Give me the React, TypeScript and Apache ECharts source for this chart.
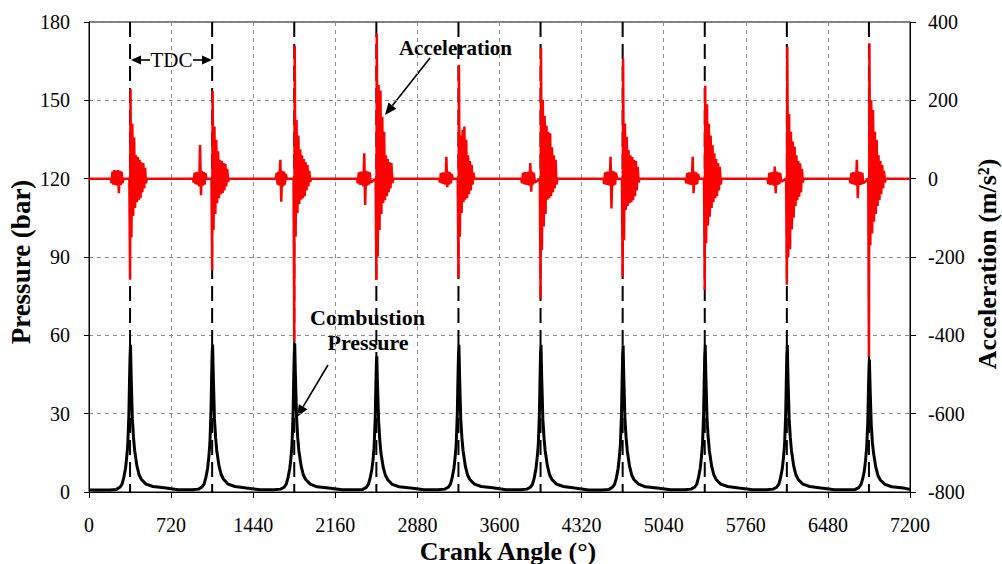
import React, { useEffect, useRef } from "react";
import * as echarts from "echarts";

// ---- data ----
const tdcAngles = [360, 1080, 1800, 2520, 3240, 3960, 4680, 5400, 6120, 6840];

// crank-angle offsets (deg, relative to each TDC) at which pressure was read
const pressureOffsets = [-300, -180, -120, -90, -70, -55, -40, -30, -20, -10, -5, 0, 4, 10, 20, 30, 40, 60, 80, 100, 140, 200, 300];
const pressureC1 = [0.8, 0.8, 1.0, 1.8, 3.0, 5.5, 9, 13, 18, 30, 42, 52, 56.4, 44, 28, 21, 16, 10, 6.5, 4.8, 3.0, 2.1, 1.6];
const pressureC2 = [0.9, 0.9, 1.1, 1.9, 3.1, 5.6, 9, 13, 18.5, 31, 43, 53, 56.5, 45, 28, 21, 16, 10, 6.6, 4.9, 3.0, 2.1, 1.5];
const pressureC3 = [0.9, 0.9, 1.1, 1.8, 3.0, 5.4, 8.8, 12.5, 18, 30, 43, 53, 57, 45, 29, 21, 16, 10, 6.5, 4.8, 3.0, 2.0, 1.5];
const pressureC4 = [0.9, 0.9, 1.0, 1.7, 2.9, 5.2, 8.5, 12, 17, 28, 39, 49, 52, 41, 27, 20, 15, 9.5, 6.3, 4.7, 2.9, 2.0, 1.5];
const pressureC5 = [0.9, 0.9, 1.1, 1.8, 3.0, 5.5, 9, 13, 18, 30, 42, 52, 56.4, 44, 28, 21, 16, 10, 6.5, 4.8, 3.0, 2.1, 1.6];
const pressureC6 = [0.9, 0.9, 1.1, 1.8, 3.0, 5.5, 9, 13, 18, 30, 42, 53, 56.4, 44, 28, 21, 16, 10, 6.5, 4.8, 3.0, 2.1, 1.5];
const pressureC7 = [0.8, 0.8, 1.0, 1.8, 3.0, 5.4, 8.9, 13, 18, 30, 42, 52, 56.2, 44, 28, 21, 16, 10, 6.4, 4.7, 3.0, 2.0, 1.5];
const pressureC8 = [0.9, 0.9, 1.1, 1.8, 3.0, 5.5, 9, 13, 18, 30, 42, 52, 56.4, 44, 28, 21, 16, 10, 6.5, 4.8, 3.0, 2.1, 1.5];
const pressureC9 = [0.9, 0.9, 1.1, 1.8, 3.0, 5.5, 9, 13, 18, 30, 42, 52, 56.3, 44, 28, 21, 16, 10, 6.5, 4.8, 3.0, 2.1, 1.5];
const pressureC10 = [0.9, 0.9, 1.0, 1.7, 2.8, 5.0, 8.2, 12, 17, 27, 38, 47, 50.7, 40, 26, 19, 15, 9.5, 6.2, 4.6, 2.9, 2.0, 1.5];
const pressureCycles = [pressureC1, pressureC2, pressureC3, pressureC4, pressureC5, pressureC6, pressureC7, pressureC8, pressureC9, pressureC10];
const pressureStart = [0, 0.8];
const pressureEnd = [7200, 1.0];

// crank-angle offsets (deg, relative to each TDC) at which acceleration was read
const accelOffsets = [-170, -162, -154, -146, -138, -130, -122, -114, -106, -98, -90, -82, -74, -66, -58, -50,
  -6, 0, 4, 12, 20, 28, 36, 44, 52, 60, 68, 76, 84, 92, 100, 108, 116, 124, 132, 140, 148];
const accelB1 = [0, -12, 18, -15, 22, -16, 20, -18, 22, -37, 20, -16, 18, -12, 0, 0,
  0, -258, 229, -150, 140, -95, 105, -75, 60, -60, 55, -55, 48, -50, 42, -35, 40, -25, 28, -12, 0];
const accelB2 = [0, -10, 15, -14, 17, -15, 16, -20, 86, -42, 20, -18, 17, -15, 14, 0,
  0, -233, 224, -131, 133, -90, 99, -63, 70, -50, 48, -40, 45, -37, 40, -30, 38, -20, 25, -8, 0];
const accelB3 = [0, 0, 15, -15, 18, -18, 48, -59, 20, -20, 18, -15, 12, 0, 0, 0,
  0, -417, 339, -148, 150, -88, 110, -65, 75, -54, 60, -50, 50, -45, 42, -30, 35, -20, 20, -8, 0];
const accelB4 = [0, -12, 16, -15, 18, -16, 18, -20, 65, -67, 20, -18, 18, -15, 16, -10,
  0, -259, 370, -199, 239, -131, 225, -90, 158, -63, 120, -55, 60, -45, 50, -35, 42, -25, 40, -12, 0];
const accelB5 = [0, -10, 14, -12, 16, -14, 15, -15, 56, -22, 18, -15, 16, -12, 12, 0,
  0, -254, 290, -148, 110, -88, 125, -60, 133, -54, 99, -50, 60, -40, 45, -30, 35, -15, 15, 0, 0];
const accelB6 = [0, -12, 15, -14, 17, -15, 16, -16, 18, -18, 40, -33, 18, -15, 15, -10,
  0, -306, 334, -182, 201, -122, 160, -90, 135, -54, 120, -50, 116, -45, 80, -35, 60, -25, 48, -15, 0];
const accelB7 = [0, -14, 16, -15, 18, -16, 18, -18, 56, -76, 20, -18, 18, -15, 15, 0,
  0, -250, 307, -157, 141, -80, 107, -70, 73, -63, 60, -60, 55, -55, 48, -45, 45, -30, 30, -10, 0];
const accelB8 = [0, -12, 14, -14, 16, -15, 16, -16, 56, -37, 18, -16, 16, -14, 12, 0,
  0, -284, 237, -165, 190, -120, 140, -97, 110, -75, 85, -60, 65, -50, 50, -45, 40, -30, 30, -15, 0];
const accelB9 = [0, -14, 15, -16, 16, -15, 17, -18, 31, -37, 18, -16, 16, -14, 14, -8,
  0, -271, 336, -200, 165, -180, 120, -130, 95, -100, 82, -70, 60, -55, 45, -46, 39, -35, 25, -10, 0];
const accelB10 = [0, -12, 15, -14, 17, -15, 16, -17, 48, -50, 18, -16, 17, -15, 15, -12,
  0, -454, 346, -170, 200, -140, 175, -110, 120, -90, 99, -70, 60, -55, 45, -40, 35, -25, 20, -10, 0];
const accelBursts = [accelB1, accelB2, accelB3, accelB4, accelB5, accelB6, accelB7, accelB8, accelB9, accelB10];
const accelStart = [0, 0];
const accelEnd = [7200, 0];

const FONT = "Liberation Serif";

function buildPressure() {
  const out: number[][] = [pressureStart];
  tdcAngles.forEach((tdc, c) => {
    pressureOffsets.forEach((o, i) => out.push([tdc + o, pressureCycles[c][i]]));
  });
  out.push(pressureEnd);
  return out;
}

function buildAccel() {
  const out: number[][] = [accelStart];
  tdcAngles.forEach((tdc, b) => {
    accelOffsets.forEach((o, i) => out.push([tdc + o, accelBursts[b][i]]));
  });
  out.push(accelEnd);
  return out;
}

function arrow(x1: number, y1: number, x2: number, y2: number, head = 12, half = 5) {
  const dx = x2 - x1, dy = y2 - y1;
  const len = Math.sqrt(dx * dx + dy * dy);
  const ux = dx / len, uy = dy / len;
  const bx = x2 - ux * head, by = y2 - uy * head;
  const px = -uy * half, py = ux * half;
  return [
    { type: "line", shape: { x1, y1, x2: bx, y2: by }, style: { stroke: "#000", lineWidth: 1.6 }, silent: true },
    { type: "polygon", shape: { points: [[x2, y2], [bx + px, by + py], [bx - px, by - py]] }, style: { fill: "#000" }, silent: true },
  ];
}

export default function App() {
  const ref = useRef<HTMLDivElement>(null);
  useEffect(() => {
    if (!ref.current) return;
    const chart = echarts.init(ref.current, undefined, { renderer: "svg" });
    const labelStyle = { fontFamily: FONT, fontSize: 20, color: "#000", formatter: (v: number) => String(v) };
    const splitLine = { show: true, lineStyle: { color: "#8c8c8c", type: [4, 4] as any, width: 1 } };
    chart.setOption({
      animation: false,
      backgroundColor: "#fff",
      grid: { left: 89, right: 92, top: 22, bottom: 72, show: true, borderColor: "#000", borderWidth: 1, backgroundColor: "transparent" },
      xAxis: {
        type: "value", min: 0, max: 7200, interval: 720,
        axisLine: { show: true, lineStyle: { color: "#000", width: 1 } },
        axisTick: { show: true, inside: false, length: 6, lineStyle: { color: "#000" } },
        axisLabel: { ...labelStyle, margin: 23 },
        splitLine,
      },
      yAxis: [
        {
          type: "value", min: 0, max: 180, interval: 30, position: "left",
          axisLine: { show: true, lineStyle: { color: "#000", width: 1 } },
          axisTick: { show: true, inside: false, length: 5, lineStyle: { color: "#000" } },
          axisLabel: { ...labelStyle, margin: 19 },
          splitLine,
        },
        {
          type: "value", min: -800, max: 400, interval: 200, position: "right",
          axisLine: { show: true, lineStyle: { color: "#000", width: 1 } },
          axisTick: { show: true, inside: false, length: 6, lineStyle: { color: "#000" } },
          axisLabel: { ...labelStyle, margin: 18 },
          splitLine: { show: false },
        },
      ],
      series: [
        {
          type: "custom", name: "TDC", xAxisIndex: 0, yAxisIndex: 0, z: 1, silent: true,
          data: tdcAngles.map((a) => [a, 0]),
          encode: { x: 0, y: 1 },
          renderItem: (params: any, api: any) => {
            const top = api.coord([api.value(0), 180]);
            const bot = api.coord([api.value(0), 0]);
            return {
              type: "line",
              shape: { x1: top[0], y1: top[1], x2: bot[0], y2: bot[1] },
              style: { stroke: "#000", lineWidth: 2, lineDash: [15, 7] },
            };
          },
        },
        {
          type: "line", name: "Combustion Pressure", yAxisIndex: 0, z: 2,
          data: buildPressure(), showSymbol: false, symbol: "none",
          lineStyle: { color: "#000", width: 3 },
        },
        {
          type: "line", name: "Acceleration", yAxisIndex: 1, z: 3,
          data: buildAccel(), showSymbol: false, symbol: "none",
          lineStyle: { color: "#ff0000", width: 2.5 },
        },
      ],
      graphic: [
        { type: "text", x: 21, y: 262, rotation: Math.PI / 2, silent: true,
          style: { text: "Pressure (bar)", fontFamily: FONT, fontSize: 27, fontWeight: "bold", fill: "#000", align: "center", verticalAlign: "middle" } },
        { type: "text", x: 987, y: 264, rotation: Math.PI / 2, silent: true,
          style: { text: "Acceleration (m/s²)", fontFamily: FONT, fontSize: 26, fontWeight: "bold", fill: "#000", align: "center", verticalAlign: "middle" } },
        { type: "text", x: 508, y: 551, silent: true,
          style: { text: "Crank Angle (°)", fontFamily: FONT, fontSize: 26, fontWeight: "bold", fill: "#000", align: "center", verticalAlign: "middle" } },
        { type: "text", x: 171.5, y: 60, silent: true,
          style: { text: "TDC", fontFamily: FONT, fontSize: 21, fill: "#000", align: "center", verticalAlign: "middle" } },
        ...arrow(150, 60, 131, 60, 10, 4.5),
        ...arrow(193, 60, 212, 60, 10, 4.5),
        { type: "text", x: 455.5, y: 48, silent: true,
          style: { text: "Acceleration", fontFamily: FONT, fontSize: 21, fontWeight: "bold", fill: "#000", align: "center", verticalAlign: "middle" } },
        ...arrow(430, 58, 385, 115),
        { type: "text", x: 367.5, y: 317, silent: true,
          style: { text: "Combustion", fontFamily: FONT, fontSize: 22, fontWeight: "bold", fill: "#000", align: "center", verticalAlign: "middle" } },
        { type: "text", x: 368, y: 342, silent: true,
          style: { text: "Pressure", fontFamily: FONT, fontSize: 22, fontWeight: "bold", fill: "#000", align: "center", verticalAlign: "middle" } },
        ...arrow(328, 365, 297, 417),
      ],
    });
    return () => chart.dispose();
  }, []);
  return <div ref={ref} style={{ position: "fixed", left: 0, top: 0, width: 1002, height: 564, background: "#fff" }} />;
}
